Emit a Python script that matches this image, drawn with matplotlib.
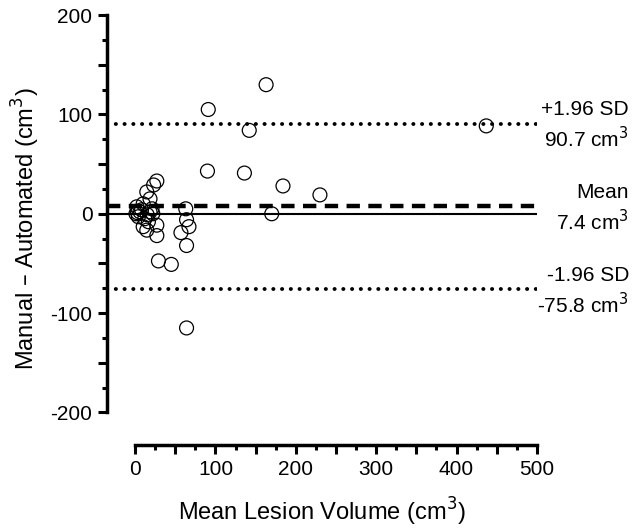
import numpy as np
import matplotlib
matplotlib.use("Agg")
import matplotlib.pyplot as plt

plt.rcParams['font.family'] = ['Liberation Sans', 'DejaVu Sans']

# mean lesion volume (x) and manual - automated difference (y), cm3
mean_vol = [163, 91, 142, 437, 90, 136, 184, 230, 170,
            29, 45, 64,
            63, 64, 67, 57, 64,
            27, 23, 14.5, 18.5, 10, 2, 6, 1, 4, 12, 18.5, 16.5, 27, 10, 14.5, 27, 21,
            8, 3, 15, 22]
diff_vol = [130, 105, 84, 88.5, 43, 41, 28, 19, 0,
            -47.5, -51, -115,
            5, -6, -13, -19, -32,
            33, 29, 22, 15, 10, 7, 2, 0, -3, -5, 2, -8, -11.5, -13, -16.5, -22, 5,
            4, 1, -1, 0]

mean_diff = 7.4
upper_loa = 90.7
lower_loa = -75.8

line_labels = [("+1.96 SD", "90.7 cm$^3$", upper_loa),
               ("Mean", "7.4 cm$^3$", mean_diff),
               ("-1.96 SD", "-75.8 cm$^3$", lower_loa)]

fig = plt.figure(figsize=(6.34, 5.28), dpi=100)
ax = fig.add_axes([0.1688, 0.157, 0.678, 0.818])

ax.axhline(0, xmin=0, xmax=1, color='black', lw=1.5, zorder=1)
ax.plot([-35, 500], [mean_diff, mean_diff], color='black', lw=3.2,
        dashes=(3.0, 1.9), zorder=2)
for v in (upper_loa, lower_loa):
    ax.plot([-35, 500], [v, v], color='black', lw=2.8,
            linestyle=(0, (0.05, 2.2)), dash_capstyle='round', zorder=2)

ax.scatter(mean_vol, diff_vol, s=100, facecolors='none', edgecolors='black',
           linewidths=0.9, zorder=3)

ax.set_xlim(-35, 500)
ax.set_ylim(-233, 202)

for s in ('top', 'right'):
    ax.spines[s].set_visible(False)
ax.spines['left'].set_bounds(-200, 200)
ax.spines['bottom'].set_bounds(0, 500)
ax.spines['left'].set_linewidth(2.5)
ax.spines['bottom'].set_linewidth(2.5)
ax.spines['left'].set_capstyle('projecting')

ax.set_xticks(np.arange(0, 501, 50))
ax.set_xticklabels([str(t) if t % 100 == 0 else '' for t in range(0, 501, 50)])
ax.set_yticks(np.arange(-200, 201, 50))
ax.set_yticklabels([str(t) if t % 100 == 0 else '' for t in range(-200, 201, 50)])
ax.set_xticks(np.arange(25, 500, 50), minor=True)
ax.set_yticks(np.arange(-175, 200, 50), minor=True)

ax.tick_params(which='major', length=6.5, width=2.2, labelsize=15, pad=4)
ax.tick_params(which='minor', length=3.5, width=2.2)

ax.set_xlabel("Mean Lesion Volume (cm$^3$)", fontsize=17, labelpad=12)
ax.set_ylabel("Manual – Automated (cm$^3$)", fontsize=17, labelpad=6)

for top, bottom, v in line_labels:
    ax.annotate(top, xy=(0.992, v), xycoords=('figure fraction', 'data'),
                xytext=(0, 10), textcoords='offset points',
                ha='right', va='center', fontsize=15, annotation_clip=False)
    ax.annotate(bottom, xy=(0.992, v), xycoords=('figure fraction', 'data'),
                xytext=(0, -11), textcoords='offset points',
                ha='right', va='center', fontsize=15, annotation_clip=False)

fig.savefig("out.png", dpi=100)
